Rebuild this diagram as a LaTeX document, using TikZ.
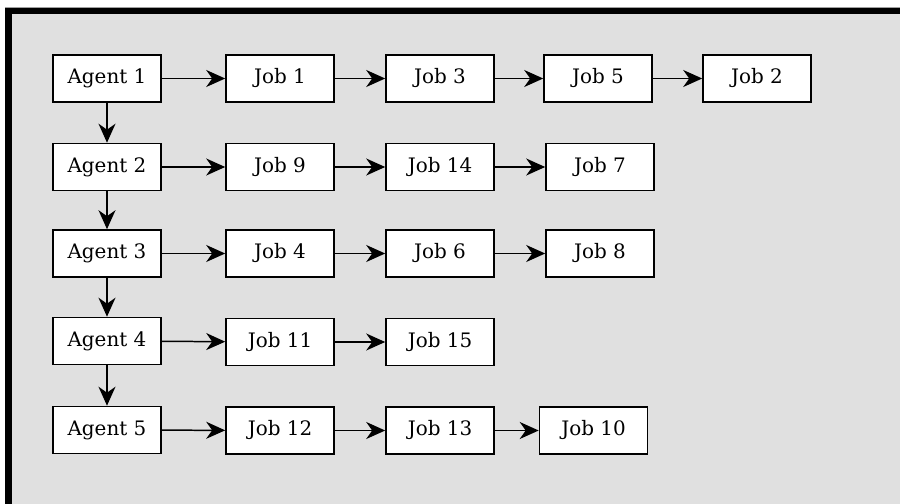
\documentclass[tikz,border=0pt]{standalone}
\usepackage{fontspec}
\setmainfont{DejaVu Serif}
\usetikzlibrary{arrows.meta}
\definecolor{panelgray}{HTML}{E0E0E0}
\definecolor{rimgray}{HTML}{A0A0A0}
\tikzset{
  box/.style={draw=black, fill=white, line width=1.6pt, minimum width=108bp,
    minimum height=47bp, inner sep=0pt, font=\fontsize{20}{23}\selectfont},
  link/.style={line width=1.5pt,
    -{Stealth[length=19bp,width=17bp,inset=6bp,fill=black]}}
}
\begin{document}
\begin{tikzpicture}[x=1bp,y=-1bp]
  \useasboundingbox (0,0) rectangle (900,504);
  % panel with heavy top and left rims, open to the right and bottom
  \fill[white] (-10,-10) rectangle (920,520);
  \fill[panelgray] (5,7) rectangle (920,520);
  \fill[rimgray] (5,7) rectangle (920,8);
  \fill[black] (5,8) rectangle (920,14);
  \fill[black] (5,8) rectangle (12,520);

  % agents
  \node[box] (a1) at (107,78.5) {Agent 1};
  \node[box] (a2) at (107,167) {Agent 2};
  \node[box] (a3) at (107,253.5) {Agent 3};
  \node[box] (a4) at (107,341) {Agent 4};
  \node[box] (a5) at (107,430) {Agent 5};

  % jobs, row by row
  \node[box] (j1)  at (280,78.5) {Job 1};
  \node[box] (j3)  at (440,78.5) {Job 3};
  \node[box] (j5)  at (598,78.5) {Job 5};
  \node[box] (j2)  at (757,78.5) {Job 2};

  \node[box] (j9)  at (280,167) {Job 9};
  \node[box] (j14) at (440,167) {Job 14};
  \node[box] (j7)  at (600,167) {Job 7};

  \node[box] (j4)  at (280,253.5) {Job 4};
  \node[box] (j6)  at (440,253.5) {Job 6};
  \node[box] (j8)  at (600,253.5) {Job 8};

  \node[box] (j11) at (280,342) {Job 11};
  \node[box] (j15) at (440,342) {Job 15};

  \node[box] (j12) at (280,430.5) {Job 12};
  \node[box] (j13) at (440,430.5) {Job 13};
  \node[box] (j10) at (593.5,430.5) {Job 10};

  % agent chain
  \draw[link] (a1) -- (a2);
  \draw[link] (a2) -- (a3);
  \draw[link] (a3) -- (a4);
  \draw[link] (a4) -- (a5);

  % job queues
  \draw[link] (a1) -- (j1);
  \draw[link] (j1) -- (j3);
  \draw[link] (j3) -- (j5);
  \draw[link] (j5) -- (j2);

  \draw[link] (a2) -- (j9);
  \draw[link] (j9) -- (j14);
  \draw[link] (j14) -- (j7);

  \draw[link] (a3) -- (j4);
  \draw[link] (j4) -- (j6);
  \draw[link] (j6) -- (j8);

  \draw[link] (a4) -- (j11);
  \draw[link] (j11) -- (j15);

  \draw[link] (a5) -- (j12);
  \draw[link] (j12) -- (j13);
  \draw[link] (j13) -- (j10);
\end{tikzpicture}
\end{document}
